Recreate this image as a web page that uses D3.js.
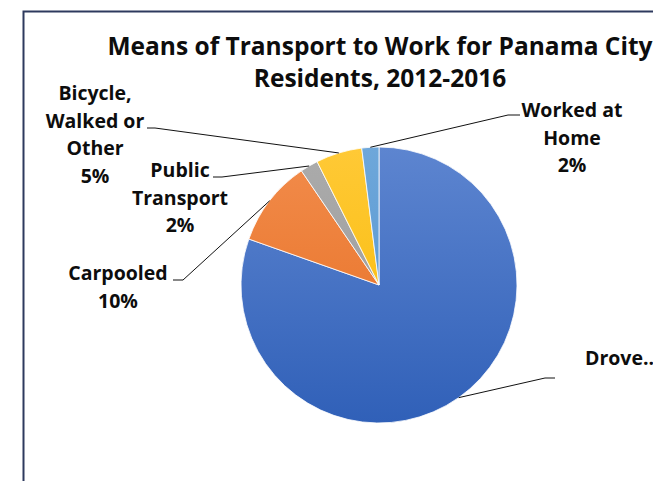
<!DOCTYPE html>
<html>
<head>
<meta charset="utf-8">
<script src="https://cdn.jsdelivr.net/npm/d3@7"></script>
<style>
  body { margin: 0; background: #fff; }
  text { font-family: "Open Sans", sans-serif; font-weight: bold; fill: #0d0d0d; }
</style>
</head>
<body>
<div id="chart"></div>
<script>
// data
var categories = ["Drove Alone", "Carpooled", "Public Transport", "Bicycle, Walked or Other", "Worked at Home"];
var values = [80.4, 10.1, 2.1, 5.4, 2.0];
var labelLines = [
  ["Drove.."],
  ["Carpooled", "10%"],
  ["Public", "Transport", "2%"],
  ["Bicycle,", "Walked or", "Other", "5%"],
  ["Worked at", "Home", "2%"]
];
var titleLines = ["Means of Transport to Work for Panama City", "Residents, 2012-2016"];

// colours: light (top) / dark (bottom) of each slice gradient
var colorTop = ["#5d85d0", "#f28c4c", "#ababab", "#ffc936", "#6ea7da"];
var colorBottom = ["#3060b8", "#e56c1e", "#999999", "#f7b900", "#4f92cf"];

// label layout: text x, first baseline, anchor, elbow point, leader end
var labelLayout = [
  { x: 585, y: 365, anchor: "start",  elbow: [545, 378], end: [555, 378] },
  { x: 118, y: 280, anchor: "middle", elbow: [183, 280], end: [173, 280] },
  { x: 180, y: 177, anchor: "middle", elbow: [222, 177], end: [213, 177] },
  { x: 95,  y: 100, anchor: "middle", elbow: [155, 128], end: [147, 128] },
  { x: 572, y: 117, anchor: "middle", elbow: [508, 115], end: [520, 115] }
];

var width = 653, height = 481;
var cx = 379, cy = 285, radius = 138;
var lineStep = 27.7;

var svg = d3.select("#chart")
  .append("svg")
  .attr("width", width)
  .attr("height", height);

// frame
svg.append("path")
  .attr("d", "M23.5," + height + "V11.5H" + width)
  .attr("fill", "none")
  .attr("stroke", "#2e3a5e")
  .attr("stroke-width", 2);

// title
svg.selectAll(".title")
  .data(titleLines)
  .enter()
  .append("text")
  .attr("class", "title")
  .attr("x", 380)
  .attr("y", function(d, i) { return 55 + i * 32; })
  .attr("text-anchor", "middle")
  .style("font-size", "24.5px")
  .text(function(d) { return d; });

// gradients (in the pie group's own coordinates)
var defs = svg.append("defs");
categories.forEach(function(c, i) {
  var gr = defs.append("linearGradient")
    .attr("id", "grad" + i)
    .attr("gradientUnits", "userSpaceOnUse")
    .attr("x1", 0).attr("y1", -radius)
    .attr("x2", 0).attr("y2", radius);
  gr.append("stop").attr("offset", "0%").attr("stop-color", colorTop[i]);
  gr.append("stop").attr("offset", "100%").attr("stop-color", colorBottom[i]);
});

var pie = d3.pie().sort(null).value(function(d) { return d; });
var arcs = pie(values);

var arc = d3.arc().innerRadius(0).outerRadius(radius);
var edgeArc = d3.arc().innerRadius(radius).outerRadius(radius);

var g = svg.append("g")
  .attr("transform", "translate(" + cx + "," + cy + ")");

g.selectAll("path.slice")
  .data(arcs)
  .enter()
  .append("path")
  .attr("class", "slice")
  .attr("d", arc)
  .attr("fill", function(d, i) { return "url(#grad" + i + ")"; })
  .attr("stroke", "#fff")
  .attr("stroke-width", 0.8);

// leader lines
svg.selectAll("polyline.leader")
  .data(arcs)
  .enter()
  .append("polyline")
  .attr("class", "leader")
  .attr("points", function(d, i) {
    var p = edgeArc.centroid(d);
    var L = labelLayout[i];
    return [[cx + p[0], cy + p[1]], L.elbow, L.end].map(function(q) { return q.join(","); }).join(" ");
  })
  .attr("fill", "none")
  .attr("stroke", "#111")
  .attr("stroke-width", 1);

// labels
labelLines.forEach(function(lines, i) {
  var L = labelLayout[i];
  svg.append("text")
    .attr("text-anchor", L.anchor)
    .style("font-size", "19.5px")
    .selectAll("tspan")
    .data(lines)
    .enter()
    .append("tspan")
    .attr("x", L.x)
    .attr("y", function(d, j) { return L.y + j * lineStep; })
    .text(function(d) { return d; });
});
</script>
</body>
</html>
